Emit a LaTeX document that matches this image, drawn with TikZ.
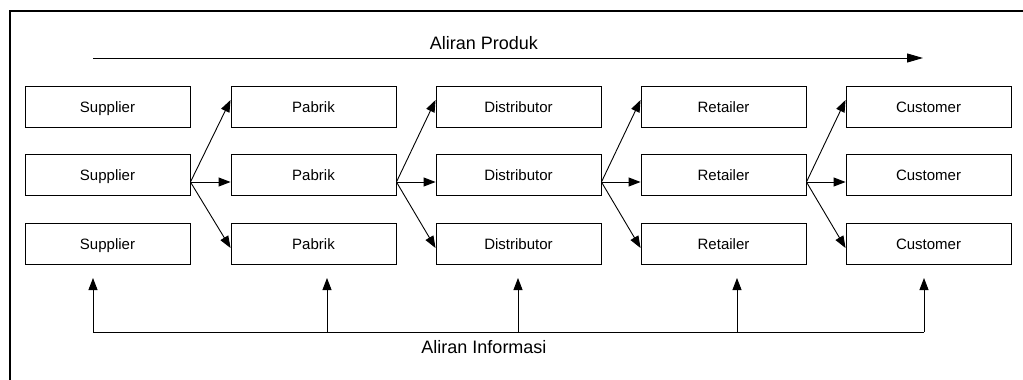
\documentclass[tikz,border=0pt]{standalone}
\usepackage{fontspec}
\setmainfont{Liberation Sans}
\usetikzlibrary{arrows.meta}
\begin{document}
\begin{tikzpicture}[x=1pt,y=-1pt,
  entity/.style={draw,line width=0.9pt,minimum width=165pt,minimum height=41pt,
    inner sep=0pt,font=\fontsize{15}{18}\selectfont,text height=11pt,text depth=0pt},
  flow/.style={line width=0.9pt,-{Triangle[length=12pt,width=9pt]}},
  bigflow/.style={line width=1pt,-{Triangle[length=16pt,width=9pt]}},
  caption/.style={font=\fontsize{18}{22}\selectfont,anchor=base,inner sep=0pt}]
\useasboundingbox (0,0) rectangle (1023,380);
\fill[white] (0,0) rectangle (1023,380);

% outer frame (continues past the right and bottom edges)
\draw[line width=1.4pt] (10,380) -- (10,11) -- (1023,11);

% supply chain tiers
\foreach \n/\t/\x in {sup/Supplier/107.5, pab/Pabrik/313.5, dis/Distributor/518.5,
                      ret/Retailer/723.5, cus/Customer/928.5}
  \foreach \r/\y in {1/106.5, 2/174.5, 3/243.5}
    \node[entity] (\n\r) at (\x,\y) {\t};

% product flow between tiers
\foreach \a/\b in {sup/pab, pab/dis, dis/ret, ret/cus} {
  \coordinate (\a-out) at ([yshift=-7.5pt]\a2.east);
  \draw[flow] (\a-out) -- ([yshift=6.5pt]\b1.west);
  \draw[flow] (\a-out) -- ([yshift=-7.5pt]\b2.west);
  \draw[flow] (\a-out) -- ([yshift=-4.5pt]\b3.west);
}

% product flow arrow
\node[caption] (prod) at (484,49) {Aliran Produk};
\coordinate (p0) at (93,58);
\coordinate (p1) at (923,58);
\draw[bigflow] (p0) -- (p1);

% information flow
\coordinate (i1) at (93,332);
\coordinate (i2) at (327,332);
\coordinate (i3) at (518,332);
\coordinate (i4) at (737,332);
\coordinate (i5) at (924,332);
\draw[line width=0.9pt] (i1) -- (i5);
\foreach \k/\x in {1/93, 2/327, 3/518, 4/737, 5/924} {
  \coordinate (u\k) at (\x,278);
  \draw[flow] (i\k) -- (u\k);
}
\node[caption] (info) at (484,353) {Aliran Informasi};
\end{tikzpicture}
\end{document}
